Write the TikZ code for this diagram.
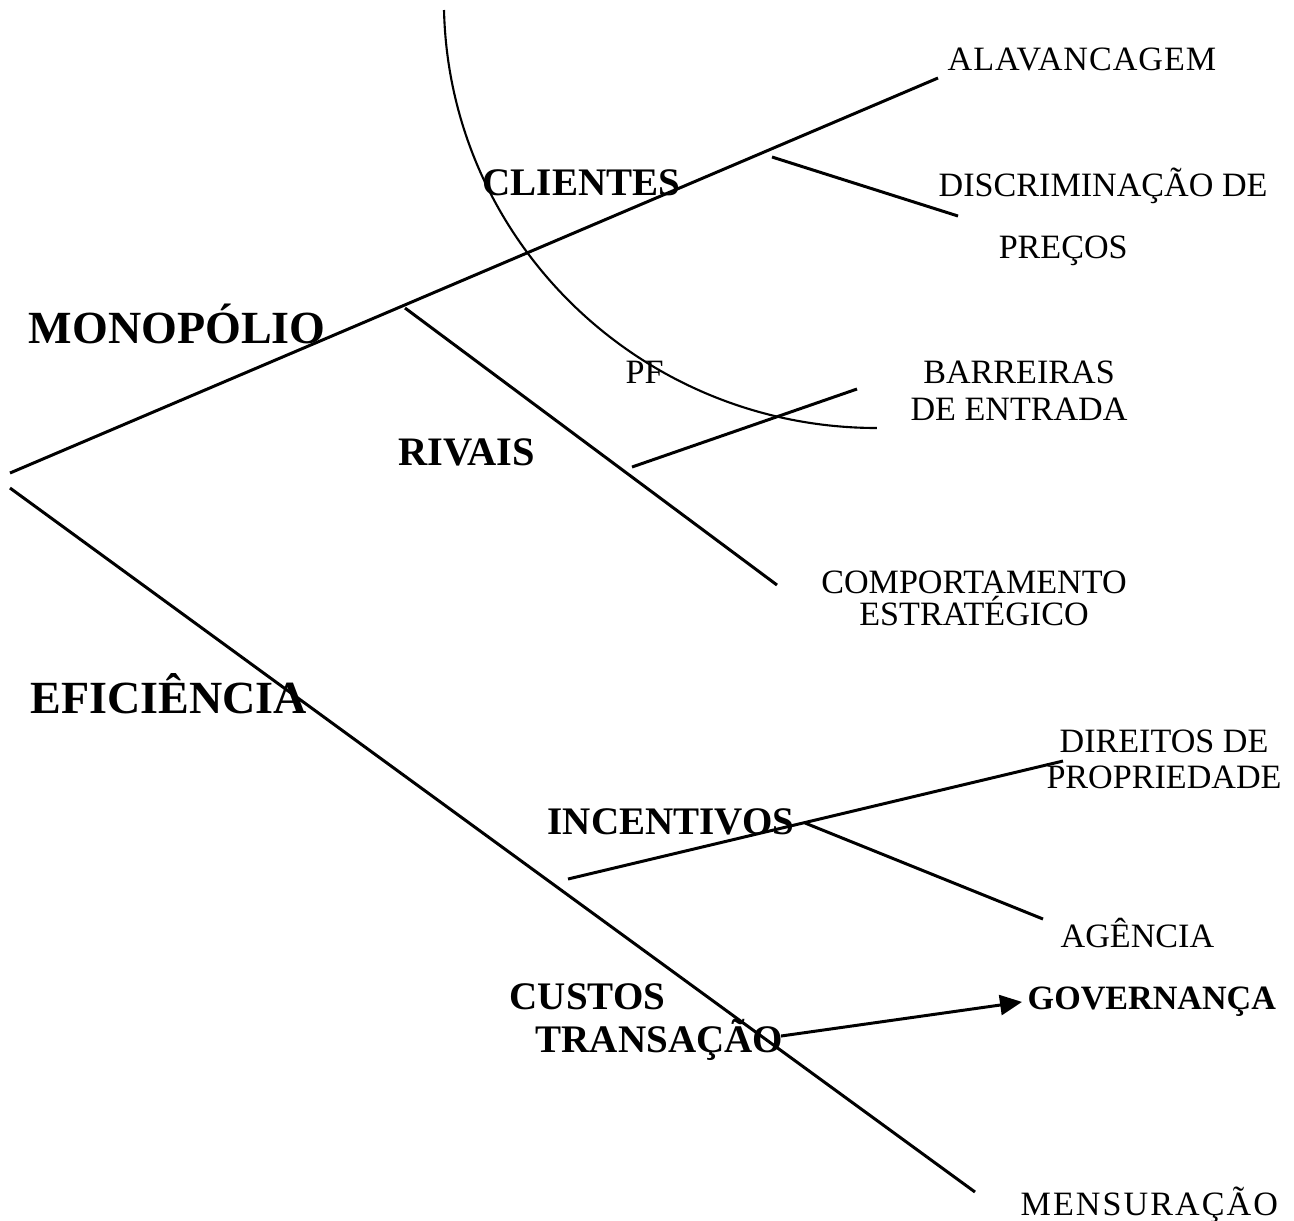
\documentclass[tikz,border=0pt]{standalone}
\usepackage{fontspec}
\setmainfont{Liberation Serif}
\usetikzlibrary{arrows.meta}

\tikzset{
  branch/.style={line width=0.85pt},
  border/.style={line width=0.6pt},
  topic/.style={inner sep=0pt, anchor=base west, font=\fontsize{13.1}{15}\selectfont\bfseries},
  factor/.style={inner sep=0pt, anchor=base west, font=\fontsize{11.1}{13}\selectfont\bfseries},
  leaf/.style={inner sep=0pt, anchor=base west, font=\fontsize{9.7}{11}\selectfont},
}

\begin{document}
\begin{tikzpicture}[x=0.01cm, y=-0.01cm]
    \useasboundingbox (0,0) rectangle (1294,1220);

    % Monopolio
    % ---------------------
    \coordinate (mono) at (10,473);
    \coordinate (mono tip) at (938,78);
    \coordinate (cli a) at (772,157);
    \coordinate (cli b) at (958,216);
    \coordinate (riv a) at (405,308);
    \coordinate (riv b) at (777,585);
    \coordinate (bar a) at (632,467);
    \coordinate (bar b) at (857,389);

    \node[topic] (monopolio) at (28,343) {MONOPÓLIO};
    \node[factor] (clientes) at (482,195) {CLIENTES};
    \node[factor, font=\fontsize{11.5}{13}\selectfont\bfseries] (rivais) at (398,465) {RIVAIS};
    \node[leaf] (alavancagem) at (947,70) {\addfontfeature{LetterSpace=3}ALAVANCAGEM};
    \node[leaf, align=left, font=\fontsize{9.7}{17.4}\selectfont] (discriminacao) at (938,258) {DISCRIMINAÇÃO DE\\\hspace*{0.6cm}PREÇOS};
    \node[leaf] (pf) at (625,383) {PF};
    \node[leaf, anchor=base, align=center, font=\fontsize{9.7}{10.5}\selectfont] (barreiras) at (1019,420) {BARREIRAS\\DE ENTRADA};
    \node[leaf, anchor=base, align=center, font=\fontsize{9.7}{9.1}\selectfont] (comportamento) at (974,625) {COMPORTAMENTO\\ESTRATÉGICO};

    \draw[branch] (mono) -- (mono tip);
    \draw[branch] (cli a) -- (cli b);
    \draw[branch] (riv a) -- (riv b);
    \draw[branch] (bar a) -- (bar b);
    \draw[border] (444,10) arc[start angle=178.66, end angle=90, x radius=433, y radius=428];

    % Eficiencia
    % ---------------------
    \coordinate (efic) at (10,488);
    \coordinate (efic tip) at (975,1192);
    \coordinate (inc a) at (568,879);
    \coordinate (inc b) at (1063,761);
    \coordinate (ag a) at (805,823);
    \coordinate (ag b) at (1043,919);
    \coordinate (ct) at (781,1036);

    \node[topic] (eficiencia) at (30,713) {EFICIÊNCIA};
    \node[factor] (incentivos) at (547,834) {INCENTIVOS};
    \node[leaf, anchor=base, align=center, font=\fontsize{9.7}{10}\selectfont] (direitos) at (1164,788) {DIREITOS DE\\PROPRIEDADE};
    \node[leaf] (agencia) at (1060,947) {AGÊNCIA};
    \node[factor, align=left, font=\fontsize{11.1}{12}\selectfont\bfseries] (custos) at (509,1052) {CUSTOS\\\hspace*{0.26cm}TRANSAÇÃO};
    \node[leaf, font=\fontsize{9.7}{11}\selectfont\bfseries] (governanca) at (1027,1009) {GOVERNANÇA};
    \node[leaf] (mensuracao) at (1020,1215) {\addfontfeature{LetterSpace=6}MENSURAÇÃO};

    \draw[branch] (efic) -- (efic tip);
    \draw[branch] (inc a) -- (inc b);
    \draw[branch] (ag a) -- (ag b);
    \draw[branch, -{Triangle[length=0.22cm, width=0.2cm]}, shorten >=0.05cm] (ct) -- (governanca.west);
\end{tikzpicture}
\end{document}
